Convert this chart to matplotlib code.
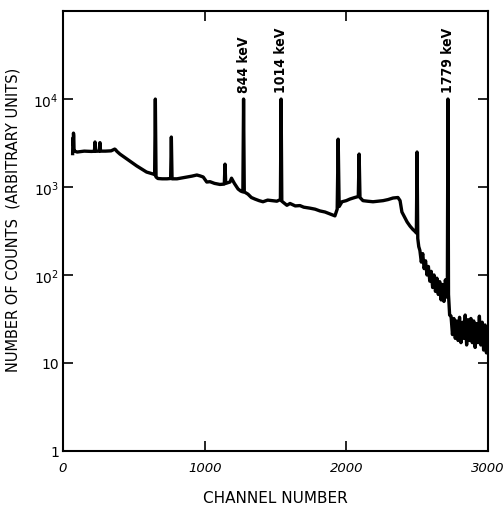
import matplotlib
matplotlib.use("Agg")
import matplotlib.pyplot as plt
import numpy as np

# spectrum, in three pieces (channel, counts)
low_ch = [68, 70, 72, 74, 76, 78, 85, 100, 150, 200,
          222, 226, 230, 255, 261, 265, 300, 340, 365, 372,
          380, 402, 450, 520, 590, 640, 647, 652, 657, 670,
          700, 734, 760, 765, 770, 805, 840, 875, 910, 945,
          967, 990]
low_ct = [2400, 3600, 3000, 4100, 3800, 2600, 2550, 2500, 2560, 2540,
          2550, 3250, 2550, 2560, 3200, 2560, 2560, 2580, 2700, 2650,
          2550, 2370, 2090, 1740, 1480, 1400, 1380, 10000, 1300, 1250,
          1240, 1240, 1250, 3700, 1240, 1240, 1270, 1300, 1330, 1370,
          1340, 1300]

mid_ch = [1015, 1038, 1070, 1108, 1139, 1144, 1149, 1179,
          1190, 1210, 1236, 1255, 1270, 1275, 1280, 1306, 1330, 1355,
          1385, 1412, 1445, 1475, 1510, 1535, 1540, 1545, 1581, 1603,
          1640, 1673, 1700, 1744, 1780, 1814, 1850, 1885, 1920, 1936,
          1943, 1950, 1970, 2000, 2026, 2060, 2085, 2091, 2097, 2118,
          2150, 2189, 2225, 2260, 2295, 2330, 2365, 2380, 2393, 2410,
          2430, 2450, 2470, 2488]
mid_ct = [1140, 1150, 1100, 1070, 1080, 1820, 1100, 1140,
          1260, 1100, 950, 900, 880, 10000, 880, 830, 760, 730,
          700, 680, 710, 700, 690, 720, 10000, 690, 620, 650,
          610, 615, 590, 575, 560, 535, 520, 495, 470, 560,
          3500, 600, 680, 700, 730, 760, 780, 2370, 760, 700,
          690, 680, 690, 700, 720, 750, 760, 700, 520, 460,
          400, 360, 330, 310]

high_ch = [2495, 2500, 2505, 2512, 2520, 2530,
           2540, 2550, 2560, 2570, 2580, 2590, 2600, 2610, 2620, 2630,
           2640, 2650, 2660, 2670, 2680, 2690, 2700, 2710, 2714, 2718,
           2722, 2730, 2740, 2750, 2760, 2770, 2780, 2790, 2800, 2810,
           2820, 2830, 2840, 2850, 2860, 2870, 2880, 2890, 2900, 2910,
           2920, 2930, 2940, 2950, 2960, 2970, 2980, 2990, 2998]
high_ct = [300, 2500, 260, 210, 190, 140,
           175, 118, 145, 100, 125, 85, 110, 72, 100, 65,
           92, 60, 84, 52, 78, 50, 88, 56, 75, 10000,
           60, 35, 34, 21, 32, 19, 30, 18, 33, 17,
           29, 19, 35, 16, 31, 18, 32, 17, 30, 15,
           28, 17, 34, 16, 29, 14, 27, 13, 22]

peak_channels = [1275, 1540, 2718]
peak_labels = ["844 keV", "1014 keV", "1779 keV"]

x_ticks = [0, 1000, 2000, 3000]
y_ticks = [1, 10, 100, 1000, 10000]
y_tick_labels = ["1", "10", r"$10^2$", r"$10^3$", r"$10^4$"]

channel = np.array(low_ch + mid_ch + high_ch)
counts = np.array(low_ct + mid_ct + high_ct)

fig = plt.figure(figsize=(5.04, 5.06), dpi=100)
ax = fig.add_axes([0.125, 0.107, 0.843, 0.869])

ax.plot(channel, counts, color="black", linewidth=2.4)

ax.set_yscale("log")
ax.set_xlim(0, 3000)
ax.set_ylim(1, 1e5)
ax.set_xticks(x_ticks)
ax.set_xticklabels([str(v) for v in x_ticks], fontstyle="italic", fontsize=9.5)
ax.set_yticks(y_ticks)
ax.set_yticklabels(y_tick_labels, fontsize=10)
ax.yaxis.set_minor_locator(matplotlib.ticker.NullLocator())

ax.tick_params(direction="in", top=True, right=True, length=7.5, width=1.2)
ax.tick_params(axis="x", pad=7)
ax.tick_params(axis="y", pad=3)
for s in ax.spines.values():
    s.set_linewidth(1.5)

for ch, lab in zip(peak_channels, peak_labels):
    ax.text(ch, 1.2e4, lab, rotation=90, ha="center", va="bottom",
            fontsize=10, fontweight="bold", fontstretch="condensed")

ax.set_xlabel("CHANNEL NUMBER", fontsize=11)
ax.set_ylabel("NUMBER OF COUNTS  (ARBITRARY UNITS)", fontsize=10.5)
ax.xaxis.set_label_coords(0.5, -0.09)
ax.yaxis.set_label_coords(-0.099, 0.527)

fig.savefig("out.png", dpi=100)
